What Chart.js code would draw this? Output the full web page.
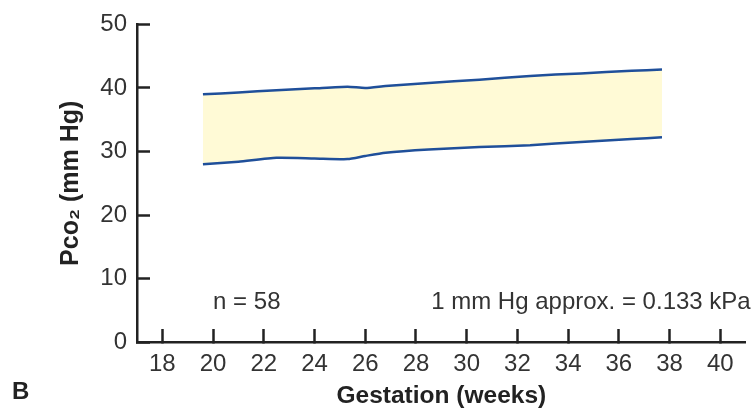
<!DOCTYPE html>
<html>
<head>
<meta charset="utf-8">
<script src="https://cdn.jsdelivr.net/npm/chart.js@4.4.1/dist/chart.umd.min.js"></script>
<style>
  html, body { margin: 0; padding: 0; background: #fff; }
  #wrap { width: 755px; height: 409px; }
</style>
</head>
<body>
<div id="wrap"><canvas id="pco2-chart" width="755" height="409"></canvas></div>
<script>
// gestation (weeks) sampled along the band edges
const weeks = [19.6, 21, 22.5, 24, 25.3, 26, 26.8, 28.5, 30.5, 32.5, 34.5, 36.5, 37.7];
// upper and lower limit of Pco2 (mm Hg)
const upperPco2 = [39.0, 39.3, 39.65, 39.95, 40.2, 40.0, 40.3, 40.8, 41.3, 41.9, 42.3, 42.7, 42.9];
const lowerPco2 = [28.0, 28.4, 29.0, 28.9, 28.8, 29.3, 29.8, 30.3, 30.7, 31.0, 31.5, 31.95, 32.25];
const xTicks = [18, 20, 22, 24, 26, 28, 30, 32, 34, 36, 38, 40];
const yTicks = [0, 10, 20, 30, 40, 50];

const lineColor = "#1f4f9a";
const fillColor = "#fffad6";
const axisColor = "#222";
const textColor = "#333";
const fontFamily = "'Liberation Sans', Arial, Helvetica, sans-serif";

const toPoints = (ys) => weeks.map((w, i) => ({ x: w, y: ys[i] }));

// text notes and panel letter
const notesPlugin = {
    id: "notes",
    afterDraw(chart) {
        const { ctx, scales } = chart;
        ctx.save();
        ctx.fillStyle = textColor;
        ctx.textBaseline = "alphabetic";
        ctx.textAlign = "left";
        ctx.font = "24px " + fontFamily;
        ctx.fillText("n = 58", scales.x.getPixelForValue(20), scales.y.getPixelForValue(5.2));
        ctx.fillText("1 mm Hg approx. = 0.133 kPa", scales.x.getPixelForValue(28.6), scales.y.getPixelForValue(5.2));
        ctx.fillStyle = axisColor;
        ctx.font = "bold 24px " + fontFamily;
        ctx.fillText("B", 12, 399);
        ctx.restore();
    },
};

const ctx = document.getElementById("pco2-chart").getContext("2d");
const chart = new Chart(ctx, {
    type: "line",
    data: {
        datasets: [
            {
                label: "lower",
                data: toPoints(lowerPco2),
                borderColor: lineColor,
                borderWidth: 2.5,
                pointRadius: 0,
                tension: 0.2,
                fill: false,
            },
            {
                label: "upper",
                data: toPoints(upperPco2),
                borderColor: lineColor,
                borderWidth: 2.5,
                backgroundColor: fillColor,
                pointRadius: 0,
                tension: 0.2,
                fill: "-1",
            },
        ],
    },
    options: {
        responsive: false,
        devicePixelRatio: 1,
        animation: false,
        layout: {
            padding: { top: 24.5, right: 8, left: 0, bottom: 0 },
        },
        plugins: {
            legend: { display: false },
            tooltip: { enabled: false },
        },
        scales: {
            x: {
                type: "linear",
                min: 17,
                max: 41,
                afterBuildTicks: (scale) => {
                    scale.ticks = xTicks.map((v) => ({ value: v }));
                },
                afterFit: (scale) => {
                    scale.height = 67;
                },
                ticks: {
                    font: { size: 24, family: fontFamily },
                    color: textColor,
                    padding: 21,
                    maxRotation: 0,
                    autoSkip: false,
                },
                grid: {
                    drawOnChartArea: false,
                    tickLength: -13,
                    tickWidth: 2.5,
                    tickColor: axisColor,
                },
                border: { display: true, color: axisColor, width: 2.5 },
                title: {
                    display: true,
                    text: "Gestation (weeks)",
                    color: axisColor,
                    font: { size: 24.5, weight: "bold", family: fontFamily },
                    padding: { top: 0, bottom: -2 },
                },
            },
            y: {
                min: 0,
                max: 50,
                afterBuildTicks: (scale) => {
                    scale.ticks = yTicks.map((v) => ({ value: v }));
                },
                afterFit: (scale) => {
                    scale.width = 137;
                    scale.paddingTop = 0;
                    scale.paddingBottom = 0;
                },
                ticks: {
                    font: { size: 24, family: fontFamily },
                    color: textColor,
                    padding: 23,
                },
                grid: {
                    drawOnChartArea: false,
                    tickLength: -13,
                    tickWidth: 2.5,
                    tickColor: axisColor,
                },
                border: { display: true, color: axisColor, width: 2.5 },
                title: {
                    display: true,
                    text: "Pco\u2082 (mm Hg)",
                    color: axisColor,
                    font: { size: 25, weight: "bold", family: fontFamily },
                    padding: { top: 56, bottom: 0 },
                },
            },
        },
    },
    plugins: [notesPlugin],
});
</script>
</body>
</html>
